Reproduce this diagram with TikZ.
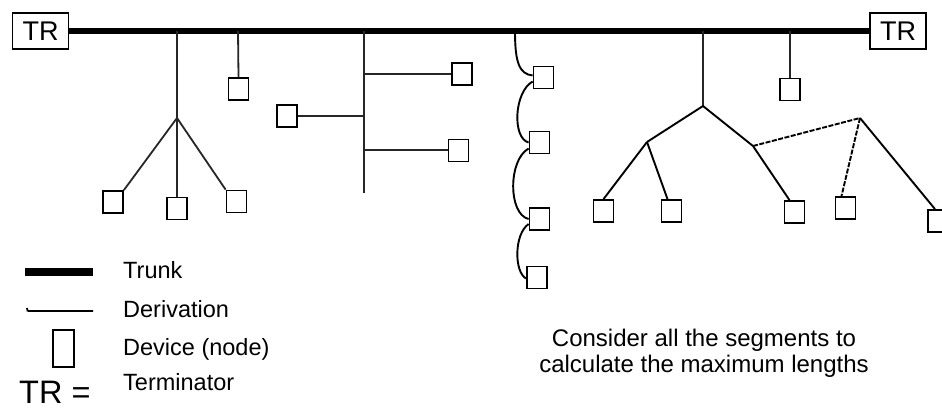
\documentclass[tikz,border=0pt]{standalone}
\usepackage{fontspec}
\setmainfont{Liberation Sans}
\begin{document}
\begin{tikzpicture}[x=1pt,y=-1pt,
  dev/.style={draw, line width=1.8pt, minimum width=20pt, minimum height=22pt, inner sep=0pt},
  trbox/.style={draw, line width=1.8pt, minimum width=56pt, minimum height=36pt, inner sep=0pt, font=\fontsize{27}{30}\selectfont},
  trunk/.style={line width=5.5pt},
  deriv/.style={line width=1.8pt, black!85},
  chain/.style={line width=1.9pt},
  dsh/.style={line width=1.9pt, dash pattern=on 5pt off 1.5pt},
  lg/.style={anchor=base west, inner sep=0pt, font=\fontsize{23.5}{27}\selectfont}]
\useasboundingbox (0,0) rectangle (942,408);
\clip (0,0) rectangle (942,408);

% terminators and trunk
\node[trbox] (TRL) at (40.5,31) {TR};
\node[trbox] (TRR) at (898,31) {TR};
\draw[trunk] (TRL.east) -- (TRR.west);

% trunk taps
\coordinate (t1) at (177,31);
\coordinate (t2) at (238,31);
\coordinate (t3) at (364,31);
\coordinate (t4) at (515,31);
\coordinate (t5) at (703,31);
\coordinate (t6) at (790,31);

% left tree
\coordinate (h1) at (177,118);
\node[dev] (L1) at (113,202) {};
\node[dev] (L2) at (177,208.5) {};
\node[dev] (L3) at (236.5,201.5) {};
\draw[deriv] (t1) -- (h1);
\draw[deriv] (h1) -- (L1.north east);
\draw[deriv] (h1) -- (L2.north);
\draw[deriv] (h1) -- (L3.north west);

% single drop
\node[dev] (L4) at (238.5,89) {};
\draw[deriv] (t2) -- (L4.north);

% comb derivation
\coordinate (m3) at (364,193);
\coordinate (mb1) at (364,74);
\coordinate (mb0) at (364,116);
\coordinate (mb2) at (364,150);
\node[dev] (M0) at (287,116) {};
\node[dev] (M1) at (462,74) {};
\node[dev] (M2) at (458.5,150.5) {};
\draw[deriv] (t3) -- (m3);
\draw[deriv] (mb1) -- (M1.west);
\draw[deriv] (mb0) -- (M0.east);
\draw[deriv] (mb2) -- (M2.west |- mb2);

% daisy chain
\node[dev] (D1) at (543.5,77.5) {};
\node[dev] (D2) at (539.5,142.5) {};
\node[dev] (D3) at (539.5,219) {};
\node[dev] (D4) at (537,277.5) {};
\coordinate (d1a) at ([yshift=2pt]D1.west);
\coordinate (d1b) at ([yshift=-4pt]D1.west);
\coordinate (d2a) at (D2.west);
\coordinate (d2b) at ([yshift=-6pt]D2.west);
\coordinate (d3a) at (D3.west);
\coordinate (d3b) at ([yshift=-5pt]D3.west);
\coordinate (d4a) at ([yshift=-1pt]D4.west);
\draw[chain] (t4) .. controls (515,62) and (519,74) .. (d1a);
\draw[chain] (d1b) .. controls (514,92) and (512,138) .. (d2a);
\draw[chain] (d2b) .. controls (508,160) and (508,214) .. (d3a);
\draw[chain] (d3b) .. controls (514,234) and (514,272) .. (d4a);

% right tree
\node[dev] (R0) at (790,89.5) {};
\draw[deriv] (t6) -- (R0.north);
\coordinate (H) at (703,106);
\coordinate (A) at (647,142);
\coordinate (B) at (753,146);
\coordinate (C) at (860,118);
\node[dev] (R1) at (603.5,211) {};
\node[dev] (R2) at (671.5,211) {};
\node[dev] (R3) at (794.5,212) {};
\node[dev] (R4) at (845.5,208) {};
\node[dev] (R5) at (938,221) {};
\draw[deriv] (t5) -- (H);
\draw[chain] (H) -- (A);
\draw[chain] (H) -- (B);
\draw[chain] (A) -- (R1.north);
\draw[chain] (A) -- ([xshift=-4pt]R2.north);
\draw[chain] (B) -- ([xshift=-5pt]R3.north);
\draw[dsh] (B) -- (C);
\draw[dsh] (C) -- ([xshift=-4pt]R4.north);
\draw[chain] (C) -- ([xshift=-3pt]R5.north);

% legend
\coordinate (lt1) at (25,272);
\coordinate (lt2) at (93,272);
\draw[line width=8pt] (lt1) -- (lt2);
\coordinate (ld0) at (27,308);
\coordinate (ld1) at (31,311);
\coordinate (ld2) at (93,311);
\draw[line width=1.8pt] (ld0) .. controls (27,311) .. (ld1) -- (ld2);
\node[draw, line width=1.8pt, minimum width=21pt, minimum height=37pt, inner sep=0pt] (LD) at (63.5,348.5) {};
\node[lg] (T1) at (123,278) {Trunk};
\node[lg] (T2) at (123,317) {Derivation};
\node[lg] (T3) at (123,355) {Device (node)};
\node[lg] (T4) at (123,390) {Terminator};
\node[anchor=base west, inner sep=0pt, font=\fontsize{32.5}{35}\selectfont] (TReq) at (19,403) {TR =};

% note
\node[anchor=base, inner sep=0pt, align=center, font=\fontsize{24}{26}\selectfont] (note) at (704,372) {Consider all the segments to\\calculate the maximum lengths};
\end{tikzpicture}
\end{document}
